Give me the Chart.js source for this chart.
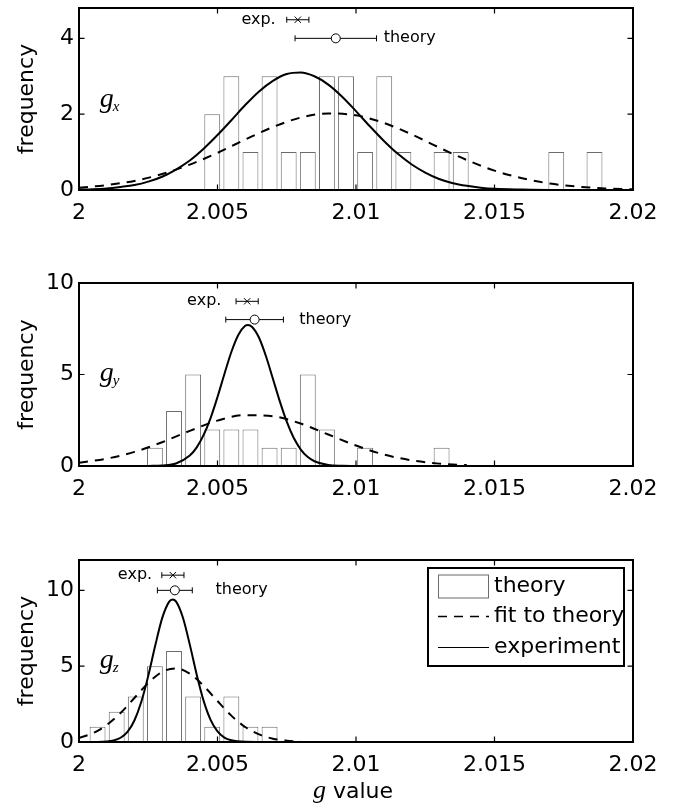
<!DOCTYPE html>
<html>
<head>
<meta charset="utf-8">
<script src="https://cdn.jsdelivr.net/npm/chart.js@4/dist/chart.umd.min.js"></script>
<style>
  body { margin: 0; background: #fff; }
  #wrap { position: relative; width: 675px; height: 804px; }
  canvas { position: absolute; left: 0; }
</style>
</head>
<body>
<div id="wrap">
  <canvas id="cx" width="675" height="236" style="top:0px"></canvas>
  <canvas id="cy" width="675" height="244" style="top:268px"></canvas>
  <canvas id="cz" width="675" height="259" style="top:545px"></canvas>
</div>
<script>
// histogram bins (g value at bin centre)
const binCenters = [2.00067, 2.00136, 2.00205, 2.00274, 2.00343, 2.00412, 2.00481, 2.0055, 2.00619,
  2.00688, 2.00757, 2.00826, 2.00895, 2.00964, 2.01033, 2.01102, 2.01171, 2.0124, 2.01309,
  2.01378, 2.01447, 2.01516, 2.01585, 2.01654, 2.01723, 2.01792, 2.01861];
const countsX = [0, 0, 0, 0, 0, 0, 2, 3, 1, 3, 1, 1, 3, 3, 1, 3, 1, 0, 1, 1, 0, 0, 0, 0, 1, 0, 1];
const countsY = [0, 0, 0, 1, 3, 5, 2, 2, 2, 1, 1, 5, 2, 0, 1, 0, 0, 0, 1, 0, 0, 0, 0, 0, 0, 0, 0];
const countsZ = [1, 2, 3, 5, 6, 3, 1, 3, 1, 1, 0, 0, 0, 0, 0, 0, 0, 0, 0, 0, 0, 0, 0, 0, 0, 0, 0];

// experiment curves
const gExpX = [2.000, 2.0005, 2.001, 2.0015, 2.002, 2.0025, 2.003, 2.0035, 2.004, 2.0045, 2.005, 2.0055,
  2.006, 2.0065, 2.007, 2.0075, 2.008, 2.0085, 2.009, 2.0095, 2.010, 2.0105, 2.011, 2.0115, 2.012,
  2.0125, 2.013, 2.0135, 2.014, 2.0145, 2.015, 2.016, 2.017, 2.018, 2.019, 2.020];
const vExpX = [0.01, 0.02, 0.04, 0.08, 0.13, 0.22, 0.35, 0.54, 0.78, 1.09, 1.45, 1.84,
  2.24, 2.60, 2.88, 3.06, 3.10, 3.00, 2.78, 2.46, 2.08, 1.68, 1.30, 0.96, 0.68,
  0.46, 0.29, 0.18, 0.11, 0.06, 0.03, 0.01, 0, 0, 0, 0];
const gExpY = [2.0025, 2.003, 2.0035, 2.004, 2.00425, 2.0045, 2.00475, 2.005, 2.00525, 2.0055, 2.00575,
  2.006, 2.0061, 2.00625, 2.0065, 2.00675, 2.007, 2.00725, 2.0075, 2.00775, 2.008, 2.00825, 2.0085,
  2.009, 2.0095, 2.010];
const vExpY = [0, 0.03, 0.14, 0.57, 1.02, 1.70, 2.62, 3.77, 5.03, 6.23, 7.16,
  7.66, 7.70, 7.60, 7.01, 6.00, 4.77, 3.53, 2.42, 1.54, 0.91, 0.50, 0.26,
  0.05, 0.01, 0];
const gExpZ = [2.0005, 2.001, 2.00125, 2.0015, 2.00175, 2.002, 2.00225, 2.0025, 2.00275, 2.003, 2.00325,
  2.00338, 2.0035, 2.00375, 2.004, 2.00425, 2.0045, 2.00475, 2.005, 2.00525, 2.0055, 2.006, 2.0065];
const vExpZ = [0, 0.03, 0.10, 0.28, 0.67, 1.42, 2.65, 4.36, 6.34, 8.15, 9.24,
  9.40, 9.27, 8.21, 6.42, 4.44, 2.71, 1.46, 0.70, 0.29, 0.11, 0.01, 0];

// fit to theory curves
const gFitX = [2.000, 2.001, 2.002, 2.003, 2.004, 2.005, 2.006, 2.007, 2.008, 2.009, 2.010,
  2.011, 2.012, 2.013, 2.014, 2.015, 2.016, 2.017, 2.018, 2.019, 2.020];
const vFitX = [0.06, 0.13, 0.24, 0.42, 0.67, 0.98, 1.33, 1.66, 1.91, 2.02, 1.97,
  1.77, 1.47, 1.12, 0.79, 0.51, 0.31, 0.17, 0.09, 0.04, 0.02];
const gFitY = [2.000, 2.001, 2.002, 2.003, 2.004, 2.005, 2.006, 2.007, 2.008, 2.009, 2.010,
  2.011, 2.012, 2.013, 2.014];
const vFitY = [0.18, 0.40, 0.77, 1.30, 1.92, 2.48, 2.78, 2.72, 2.32, 1.72, 1.12,
  0.63, 0.31, 0.13, 0.05];
const gFitZ = [2.000, 2.0005, 2.001, 2.0015, 2.002, 2.0025, 2.003, 2.0035, 2.004, 2.0045, 2.005,
  2.0055, 2.006, 2.0065, 2.007, 2.0075, 2.008];
const vFitZ = [0.26, 0.58, 1.12, 1.91, 2.90, 3.89, 4.62, 4.85, 4.50, 3.70, 2.70,
  1.74, 0.99, 0.50, 0.22, 0.09, 0.03];

// mean g values with error bars (x, y, z)
const expVal = [2.0079, 2.00607, 2.00339];
const expErr = [0.0004, 0.0004, 0.0004];
const theoryVal = [2.00927, 2.00634, 2.00346];
const theoryErr = [0.00147, 0.00104, 0.00063];

const xTickValues = [2, 2.005, 2.01, 2.015, 2.02];
const xTickLabels = ['2', '2.005', '2.01', '2.015', '2.02'];
const legendLabels = ['theory', 'fit to theory', 'experiment'];

const BAR_EDGE = '#6b6b6b';
const DASH = [9, 7];
const SANS = '"DejaVu Sans", sans-serif';
const SERIF = '"Liberation Serif", serif';

Chart.defaults.font.family = SANS;
Chart.defaults.font.size = 22;
Chart.defaults.color = '#000';

// matlab style box, inward ticks and the labels inside the axes
const axesBox = {
  id: 'axesBox',
  afterDatasetsDraw(chart, args, o) {
    const {ctx, chartArea: a, scales: {x, y}} = chart;
    ctx.save();
    ctx.strokeStyle = '#000';
    ctx.lineWidth = 1.2;
    ctx.beginPath();
    xTickValues.forEach(v => {
      const px = x.getPixelForValue(v);
      ctx.moveTo(px, a.bottom); ctx.lineTo(px, a.bottom - 5.5);
      ctx.moveTo(px, a.top); ctx.lineTo(px, a.top + 5.5);
    });
    o.yTicks.forEach(v => {
      const py = y.getPixelForValue(v);
      ctx.moveTo(a.left, py); ctx.lineTo(a.left + 5.5, py);
      ctx.moveTo(a.right, py); ctx.lineTo(a.right - 5.5, py);
    });
    ctx.stroke();
    ctx.lineWidth = 2;
    ctx.strokeRect(a.left, a.top, a.right - a.left, a.bottom - a.top);

    ctx.fillStyle = '#000';
    ctx.font = '16px ' + SANS;
    ctx.textBaseline = 'middle';
    ctx.textAlign = 'right';
    ctx.fillText('exp.', x.getPixelForValue(o.expTextAt), y.getPixelForValue(o.rows[0]));
    ctx.textAlign = 'left';
    ctx.fillText('theory', x.getPixelForValue(o.theoryTextAt), y.getPixelForValue(o.rows[1]));

    // g_x / g_y / g_z
    ctx.textBaseline = 'alphabetic';
    const gx = x.getPixelForValue(o.gPos[0]);
    const gy = y.getPixelForValue(o.gPos[1]);
    ctx.font = 'italic 28px ' + SERIF;
    ctx.fillText('g', gx, gy);
    const wg = ctx.measureText('g').width;
    ctx.font = 'italic 15px ' + SERIF;
    ctx.fillText(o.sub, gx + wg - 1, gy + 4);

    if (o.xTitle) {
      ctx.font = 'italic 26px ' + SERIF;
      const w1 = ctx.measureText('g').width;
      ctx.font = '22px ' + SANS;
      const w2 = ctx.measureText(' value').width;
      const sx = (a.left + a.right) / 2 - 3 - (w1 + w2) / 2;
      const base = a.bottom + 56;
      ctx.font = 'italic 26px ' + SERIF;
      ctx.fillText('g', sx, base);
      ctx.font = '22px ' + SANS;
      ctx.fillText(' value', sx + w1, base);
    }
    ctx.restore();
  }
};

const legendBox = {
  id: 'legendBox',
  afterDraw(chart, args, o) {
    if (!o.show) return;
    const {ctx, chartArea: a} = chart;
    const w = 196, h = 98;
    const left = a.right - 9 - w, top = a.top + 8;
    const rows = [18.5, 48.5, 79.5];
    ctx.save();
    ctx.fillStyle = '#fff';
    ctx.fillRect(left, top, w, h);
    ctx.strokeStyle = '#000';
    ctx.lineWidth = 2;
    ctx.strokeRect(left, top, w, h);

    ctx.lineWidth = 1;
    ctx.strokeStyle = BAR_EDGE;
    ctx.strokeRect(left + 10.5, top + rows[0] - 11.5, 50, 23);

    ctx.strokeStyle = '#000';
    ctx.lineWidth = 1.5;
    ctx.setLineDash(DASH);
    ctx.beginPath();
    ctx.moveTo(left + 10, top + rows[1]); ctx.lineTo(left + 61, top + rows[1]);
    ctx.stroke();
    ctx.setLineDash([]);
    ctx.lineWidth = 1;
    ctx.beginPath();
    ctx.moveTo(left + 10, top + rows[2]); ctx.lineTo(left + 61, top + rows[2]);
    ctx.stroke();

    ctx.fillStyle = '#000';
    ctx.font = '22px ' + SANS;
    ctx.textBaseline = 'middle';
    ctx.textAlign = 'left';
    legendLabels.forEach((t, i) => ctx.fillText(t, left + 66, top + rows[i]));
    ctx.restore();
  }
};

function buildPanel(id, p) {
  const n = p.idx;
  const pts = (gs, vs) => gs.map((g, i) => ({x: g, y: vs[i]}));
  const errLine = (v, e, row) => ({
    type: 'line',
    data: [{x: v - e, y: row}, {x: v + e, y: row}],
    borderColor: '#000', borderWidth: 1,
    pointStyle: 'line', pointRotation: 90, pointRadius: 3,
    pointBorderWidth: 1, pointBorderColor: '#000',
    order: 0
  });
  const datasets = [
    { type: 'line', label: 'exp', data: [{x: expVal[n], y: p.rows[0]}], showLine: false,
      pointStyle: 'crossRot', pointRadius: 4.5, pointBorderWidth: 1, pointBorderColor: '#000', order: 0 },
    errLine(expVal[n], expErr[n], p.rows[0]),
    { type: 'line', label: 'theory mean', data: [{x: theoryVal[n], y: p.rows[1]}], showLine: false,
      pointStyle: 'circle', pointRadius: 4.5, pointBorderWidth: 1, pointBorderColor: '#000',
      pointBackgroundColor: '#fff', order: 0 },
    errLine(theoryVal[n], theoryErr[n], p.rows[1]),
    { type: 'line', label: 'experiment', data: pts(p.expG, p.expV), borderColor: '#000', borderWidth: 2,
      pointRadius: 0, cubicInterpolationMode: 'monotone', order: 1 },
    { type: 'line', label: 'fit to theory', data: pts(p.fitG, p.fitV), borderColor: '#000', borderWidth: 2,
      borderDash: DASH, pointRadius: 0, cubicInterpolationMode: 'monotone', order: 1 },
    { type: 'bar', label: 'theory', data: binCenters.map((g, i) => ({x: g, y: p.counts[i] || null})),
      backgroundColor: '#fff', borderColor: BAR_EDGE, borderWidth: 1,
      barPercentage: 0.83, categoryPercentage: 1, order: 3 }
  ];

  new Chart(document.getElementById(id), {
    type: 'bar',
    data: { datasets },
    options: {
      responsive: false,
      animation: false,
      events: [],
      layout: { padding: { top: p.padTop, right: 42, left: 0, bottom: 0 } },
      plugins: {
        legend: { display: false },
        tooltip: { enabled: false },
        axesBox: { yTicks: p.yTicks, rows: p.rows, expTextAt: p.expTextAt, theoryTextAt: p.theoryTextAt,
          gPos: p.gPos, sub: p.sub, xTitle: !!p.xTitle },
        legendBox: { show: !!p.legend }
      },
      scales: {
        x: {
          type: 'linear', min: 2, max: 2.02, offset: false,
          grid: { display: false, drawTicks: false }, border: { display: false },
          ticks: { padding: 10, maxRotation: 0, autoSkip: false, callback: (v, i) => xTickLabels[i] },
          afterBuildTicks: s => { s.ticks = xTickValues.map(v => ({value: v})); },
          afterFit: s => { s.height = p.xHeight; s.paddingLeft = 0; s.paddingRight = 0; }
        },
        y: {
          type: 'linear', min: 0, max: p.yMax,
          grid: { display: false, drawTicks: false }, border: { display: false },
          ticks: { padding: 5 },
          afterBuildTicks: s => { s.ticks = p.yTicks.map(v => ({value: v})); },
          title: { display: true, text: 'frequency', padding: { top: 14, bottom: 0 } },
          afterFit: s => { s.width = 79; s.paddingTop = 0; s.paddingBottom = 0; }
        }
      }
    },
    plugins: [axesBox, legendBox]
  });
}

buildPanel('cx', { idx: 0, counts: countsX, expG: gExpX, expV: vExpX, fitG: gFitX, fitV: vFitX,
  yMax: 4.8, yTicks: [0, 2, 4], padTop: 8, xHeight: 46, rows: [4.49, 4.0],
  expTextAt: 2.0071, theoryTextAt: 2.0110, gPos: [2.00075, 2.2], sub: 'x' });
buildPanel('cy', { idx: 1, counts: countsY, expG: gExpY, expV: vExpY, fitG: gFitY, fitV: vFitY,
  yMax: 10, yTicks: [0, 5, 10], padTop: 15, xHeight: 46, rows: [9.0, 8.0],
  expTextAt: 2.00514, theoryTextAt: 2.00795, gPos: [2.00075, 4.67], sub: 'y' });
buildPanel('cz', { idx: 2, counts: countsZ, expG: gExpZ, expV: vExpZ, fitG: gFitZ, fitV: vFitZ,
  yMax: 12, yTicks: [0, 5, 10], padTop: 15, xHeight: 62, rows: [11.0, 10.0],
  expTextAt: 2.00264, theoryTextAt: 2.00493, gPos: [2.00075, 4.9], sub: 'z', legend: true, xTitle: true });
</script>
</body>
</html>
